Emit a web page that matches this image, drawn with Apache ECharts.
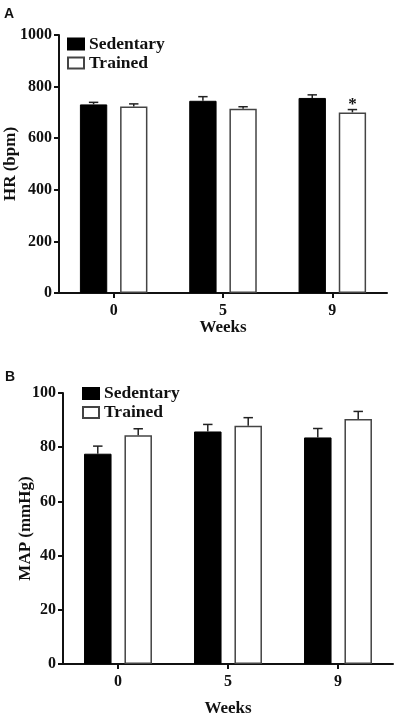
<!DOCTYPE html>
<html>
<head>
<meta charset="utf-8">
<script src="https://cdn.jsdelivr.net/npm/echarts@6/dist/echarts.min.js"></script>
<style>
html,body{margin:0;padding:0;background:#fff;}
#c{width:397px;height:717px;}
</style>
</head>
<body>
<div id="c"></div>
<script>
// ---- data ----
const weeks = ['0', '5', '9'];
const seriesNames = ['Sedentary', 'Trained'];
// Panel A: heart rate (bpm)
const hrSedentary = [731, 745, 756];
const hrSedentaryErr = [8, 16, 12];
const hrTrained = [723, 714, 700];
const hrTrainedErr = [10, 8, 11];
const hrTrainedSig = ['', '', '*'];
const hrTicks = [0, 1000, 200];
// Panel B: mean arterial pressure (mmHg)
const mapSedentary = [77.6, 85.8, 83.6];
const mapSedentaryErr = [2.8, 2.6, 3.3];
const mapTrained = [84.4, 87.9, 90.4];
const mapTrainedErr = [2.4, 3.0, 2.8];
const mapTicks = [0, 100, 20];

const SERIF = '"Liberation Serif","Times New Roman",serif';
const OFF = 0.18375; // bar center offset as share of band

function errData(means, errs, side) {
  return means.map((m, i) => [i, m, errs[i], side]);
}
function errSeries(means, errs, side, axisIdx, sig) {
  return {
    type: 'custom',
    name: 'err' + axisIdx + side,
    xAxisIndex: axisIdx, yAxisIndex: axisIdx,
    z: 5,
    silent: true,
    data: errData(means, errs, side),
    renderItem: function (params, api) {
      const x = api.value(0), m = api.value(1), e = api.value(2), s = api.value(3);
      const base = api.coord([x, m]);
      const top = api.coord([x, m + e]);
      const band = api.size([1, 0])[0];
      const cx = base[0] + s * band * OFF;
      const half = band * 0.043;
      const st = { stroke: '#222', lineWidth: 1.5 };
      const children = [
        { type: 'line', shape: { x1: cx, y1: base[1], x2: cx, y2: top[1] }, style: st },
        { type: 'line', shape: { x1: cx - half, y1: top[1], x2: cx + half, y2: top[1] }, style: st }
      ];
      const t = sig ? sig[params.dataIndex] : '';
      if (t) {
        children.push({ type: 'text', x: cx, y: top[1] - 13,
          style: { text: t, fill: '#111', font: 'bold 17px ' + SERIF, align: 'center', verticalAlign: 'top' } });
      }
      return { type: 'group', children: children };
    }
  };
}

function barSeries(name, data, idx) {
  const sed = name === 'Sedentary';
  return {
    type: 'bar', name: name, xAxisIndex: idx, yAxisIndex: idx,
    data: data, barWidth: '25%', barGap: '47%',
    itemStyle: sed ? { color: '#000', borderColor: '#000', borderWidth: 1 }
                   : { color: '#fff', borderColor: '#444', borderWidth: 1.5 }
  };
}

const axisLine = { show: true, lineStyle: { color: '#111', width: 2 } };
const axisTick = { show: true, length: 5, lineStyle: { color: '#111', width: 2 } };
const labelStyle = { color: '#111', fontFamily: SERIF, fontWeight: 'bold', fontSize: 16 };
const nameStyle = { color: '#111', fontFamily: SERIF, fontWeight: 'bold', fontSize: 17 };

function xAx(idx, gap) {
  return {
    type: 'category', gridIndex: idx, data: weeks,
    axisLine: axisLine, axisTick: Object.assign({ alignWithLabel: true }, axisTick),
    axisLabel: Object.assign({ margin: 10 }, labelStyle),
    name: 'Weeks', nameLocation: 'middle', nameGap: gap, nameTextStyle: nameStyle,
    nameMoveOverlap: false,
    splitLine: { show: false }
  };
}
function yAx(idx, ticks, name, gap) {
  return {
    type: 'value', gridIndex: idx, min: ticks[0], max: ticks[1], interval: ticks[2],
    axisLine: axisLine, axisTick: axisTick,
    axisLabel: Object.assign({ margin: 7, formatter: v => String(v) }, labelStyle),
    name: name, nameLocation: 'middle', nameGap: gap, nameTextStyle: nameStyle,
    nameMoveOverlap: false,
    splitLine: { show: false }
  };
}

const legendText = { color: '#111', fontFamily: SERIF, fontWeight: 'bold', fontSize: 17.5 };

const option = {
  backgroundColor: '#fff',
  animation: false,
  grid: [
    { left: 59, right: 10, top: 35, bottom: 424, containLabel: false, outerBoundsMode: 'none' },
    { left: 63, right: 4, top: 393, bottom: 53, containLabel: false, outerBoundsMode: 'none' }
  ],
  xAxis: [xAx(0, 26), xAx(1, 36)],
  yAxis: [yAx(0, hrTicks, 'HR (bpm)', 40), yAx(1, mapTicks, 'MAP (mmHg)', 29)],
  legend: [
    { data: seriesNames, orient: 'vertical', left: 67, top: 35, padding: 0, itemWidth: 16, itemHeight: 11,
      itemGap: 1, itemTextGap: 9, textStyle: legendText, icon: 'rect', selectedMode: false },
    { data: seriesNames, orient: 'vertical', left: 82, top: 384.5, padding: 0, itemWidth: 16, itemHeight: 11,
      itemGap: 1, itemTextGap: 9, textStyle: legendText, icon: 'rect', selectedMode: false }
  ],
  graphic: [
    { type: 'text', left: 4, top: 7, style: { text: 'A', fill: '#111', font: 'bold 14px "Liberation Sans", Arial, sans-serif' } },
    { type: 'text', left: 5, top: 370, style: { text: 'B', fill: '#111', font: 'bold 14px "Liberation Sans", Arial, sans-serif' } }
  ],
  series: [
    barSeries('Sedentary', hrSedentary, 0),
    barSeries('Trained', hrTrained, 0),
    errSeries(hrSedentary, hrSedentaryErr, -1, 0, null),
    errSeries(hrTrained, hrTrainedErr, 1, 0, hrTrainedSig),
    barSeries('Sedentary', mapSedentary, 1),
    barSeries('Trained', mapTrained, 1),
    errSeries(mapSedentary, mapSedentaryErr, -1, 1, null),
    errSeries(mapTrained, mapTrainedErr, 1, 1, null)
  ]
};
const chart = echarts.init(document.getElementById('c'), null, { renderer: 'canvas' });
chart.setOption(option);
</script>
</body>
</html>
